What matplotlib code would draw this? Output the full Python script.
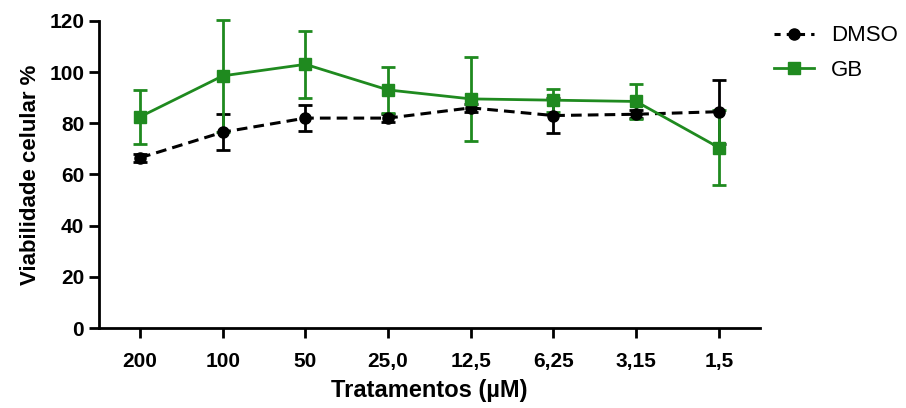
import matplotlib.pyplot as plt
from matplotlib.lines import Line2D
import numpy as np

# dados
tratamentos = ['200', '100', '50', '25,0', '12,5', '6,25', '3,15', '1,5']
dmso = [66.5, 76.5, 82, 82, 86, 83, 83.5, 84.5]
dmso_err = [1.5, 7, 5, 1.5, 1.5, 7, 1.5, 12.5]
gb = [82.5, 98.5, 103, 93, 89.5, 89, 88.5, 70.5]
gb_err = [10.5, 22, 13, 9, 16.5, 4.5, 7, 14.5]

plt.rcParams['font.family'] = ['Liberation Sans', 'DejaVu Sans']

fig = plt.figure(figsize=(9.06, 4.08), dpi=100)
ax = fig.add_axes([0.109, 0.196, 0.73, 0.753])

x = np.arange(len(tratamentos))
verde = '#1f8a1f'
d = ax.errorbar(x, dmso, yerr=dmso_err, color='black', ls='--', lw=2.2, marker='o',
                ms=8, capsize=5, elinewidth=2, capthick=2, dashes=(3.5, 2))
g = ax.errorbar(x, gb, yerr=gb_err, color=verde, ls='-', lw=2, marker='s',
                ms=8, capsize=5, elinewidth=2, capthick=2)
for c in (d, g):
    for art in c.lines[1] + c.lines[2]:
        art.set_clip_on(False)
    c.lines[0].set_clip_on(False)

ax.set_xlim(-0.5, 7.5)
ax.set_ylim(0, 120)
ax.set_yticks(range(0, 121, 20))
ax.set_xticks(x)
ax.set_xticklabels(tratamentos)
ax.spines['top'].set_visible(False)
ax.spines['right'].set_visible(False)
ax.spines['left'].set_linewidth(2)
ax.spines['bottom'].set_linewidth(2)
ax.tick_params(width=2, length=7, labelsize=15)
ax.tick_params(axis='x', pad=10)
for lab in ax.get_xticklabels() + ax.get_yticklabels():
    lab.set_fontweight('bold')

ax.set_xlabel('Tratamentos (µM)', fontsize=17, fontweight='bold', labelpad=6)
ax.set_ylabel('Viabilidade celular %', fontsize=16, fontweight='bold', labelpad=6)

handles = [Line2D([], [], color='black', ls='--', lw=2.2, marker='o', ms=8, dashes=(2, 2)),
           Line2D([], [], color=verde, ls='-', lw=2, marker='s', ms=8)]
ax.legend(handles, ['DMSO', 'GB'], loc='upper left', bbox_to_anchor=(0.99, 1.05),
          frameon=False, fontsize=16, handlelength=1.8, handletextpad=0.8, labelspacing=0.6)
fig.savefig('out.png', dpi=100)
